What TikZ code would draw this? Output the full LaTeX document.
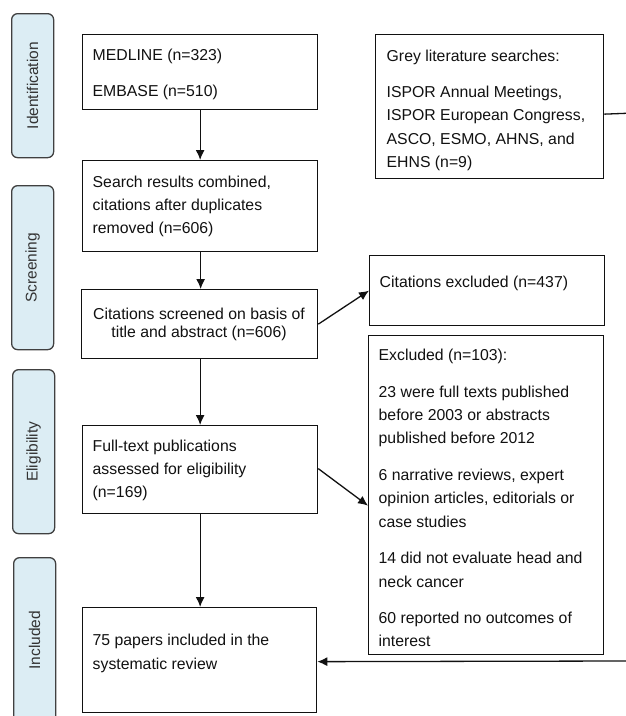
\documentclass[tikz,border=0pt]{standalone}
\usepackage{fontspec}
\setmainfont{Liberation Sans}
\usetikzlibrary{arrows.meta}
\definecolor{phasefill}{HTML}{DCEDF4}
\definecolor{ink}{HTML}{111111}
\newcommand{\bodytxt}[1]{\parbox[t]{260pt}{\fontsize{15.8}{23.3}\selectfont\setlength{\parskip}{13.3pt}\raggedright #1}}
\begin{document}
\begin{tikzpicture}[x=1pt,y=-1pt,
  flowbox/.style={draw=ink,line width=1.3pt,fill=white,anchor=north west,inner sep=0pt},
  phasebox/.style={draw=black!75,line width=1.3pt,fill=phasefill,rounded corners=6pt,anchor=north west,inner sep=0pt,minimum width=42pt},
  phasetext/.style={rotate=90,text=black!80,font=\fontsize{15.5}{18}\selectfont,inner sep=0pt},
  boxtext/.style={anchor=base west,inner sep=0pt,text=ink},
  conn/.style={draw=ink,line width=1.3pt},
  arr/.style={conn,-{Latex[length=10pt,width=9pt]}}]
\useasboundingbox (0,0) rectangle (625,716);
% phase boxes
\node[phasebox,minimum height=144pt] (pid) at (11,13) {};
\node[phasetext] (tid) at (pid.center) {Identification};
\node[phasebox,minimum height=164pt] (psc) at (11,185) {};
\node[phasetext] (tsc) at (psc.center) {Screening};
\node[phasebox,minimum height=164pt] (pel) at (12,369) {};
\node[phasetext] (tel) at (pel.center) {Eligibility};
\node[phasebox,minimum height=165pt] (pin) at (13,557) {};
\node[phasetext] (tin) at (pin.center) {Included};
% flow boxes
\node[flowbox,minimum width=235pt,minimum height=75pt] (medline) at (82,34) {};
\node[flowbox,minimum width=235pt,minimum height=91pt] (search) at (82,160) {};
\node[flowbox,minimum width=236pt,minimum height=69pt] (screened) at (81,289) {};
\node[flowbox,minimum width=235pt,minimum height=88pt] (fulltext) at (82,425) {};
\node[flowbox,minimum width=234pt,minimum height=105pt] (papers) at (82,607) {};
\node[flowbox,minimum width=228pt,minimum height=144pt] (grey) at (375,34) {};
\node[flowbox,minimum width=235pt,minimum height=70pt] (citex) at (369,255) {};
\node[flowbox,minimum width=235pt,minimum height=319pt] (excl) at (368,335) {};
% texts
\node[boxtext] (tmed) at (92.5,60) {\bodytxt{MEDLINE (n=323)\par EMBASE (n=510)}};
\node[boxtext] (tsearch) at (92.5,187) {\bodytxt{Search results combined,\\ citations after duplicates\\ removed (n=606)}};
\node[anchor=base,inner sep=0pt,text=ink] (tscreen) at (199,319.3) {\parbox[t]{236pt}{\centering\fontsize{15.8}{18}\selectfont Citations screened on basis of\\ title and abstract (n=606)}};
\node[boxtext] (tfull) at (92.5,451) {\bodytxt{Full-text publications\\ assessed for eligibility\\ (n=169)}};
\node[boxtext] (tpapers) at (92.5,645.7) {\bodytxt{75 papers included in the\\ systematic review}};
\node[boxtext] (tgrey) at (386.5,61) {\bodytxt{Grey literature searches:\par ISPOR Annual Meetings,\\ ISPOR European Congress,\\ ASCO, ESMO, AHNS, and\\ EHNS (n=9)}};
\node[boxtext] (tcitex) at (379.5,287.3) {\bodytxt{Citations excluded (n=437)}};
\node[boxtext] (texcl) at (378.5,360.7) {\bodytxt{Excluded (n=103):\par 23 were full texts published\\ before 2003 or abstracts\\ published before 2012\par 6 narrative reviews, expert\\ opinion articles, editorials or\\ case studies\par 14 did not evaluate head and\\ neck cancer\par 60 reported no outcomes of\\ interest}};
% off-page ends
\coordinate (greyout) at (626,113.3);
\coordinate (retin) at (626,661);
% connectors
\draw[arr] (medline.south) -- (search.north);
\draw[arr] ([xshift=0.5pt]search.south) -- ([xshift=1pt]screened.north);
\draw[arr] ([xshift=0.5pt]screened.south) -- (fulltext.north);
\draw[arr] (fulltext.south) -- ([xshift=0.5pt]papers.north);
\draw[arr] (screened.east) -- (citex.west);
\draw[arr] ([yshift=1pt]fulltext.east) -- ([yshift=-10.5pt]excl.west);
\draw[conn] ([yshift=-7.5pt]grey.east) -- (greyout);
\draw[arr] (retin) -- ([yshift=-1.5pt]papers.east);
\end{tikzpicture}
\end{document}
